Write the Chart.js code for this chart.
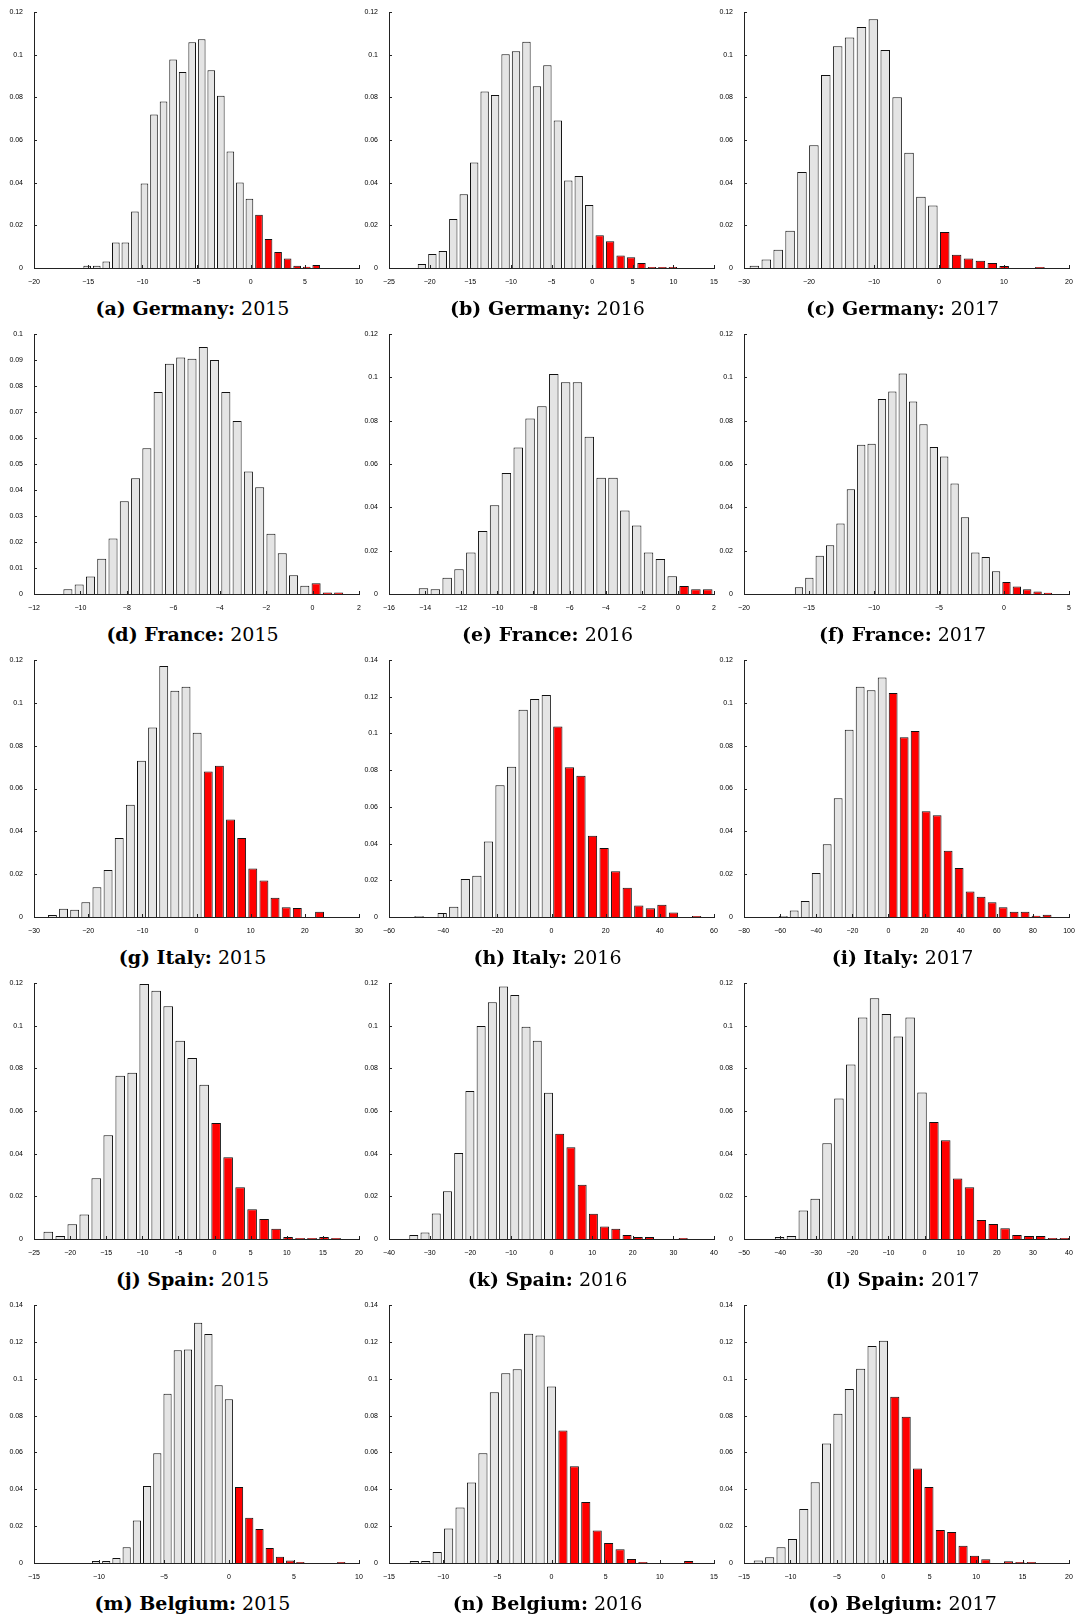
<!DOCTYPE html>
<html>
<head>
<meta charset="utf-8">
<script src="https://cdn.jsdelivr.net/npm/chart.js@4.4.1/dist/chart.umd.min.js"></script>
<style>
  body { margin: 0; background: #fff; overflow: hidden; }
  #page { position: relative; width: 1079px; height: 1619px; }
  .panel { position: absolute; }
  .cap {
    position: absolute;
    font-family: "DejaVu Serif", serif;
    font-size: 19px;
    white-space: nowrap;
    transform: translate(-50%, -50%);
    color: #000;
  }
</style>
</head>
<body>
<div id="page"></div>
<script>
// histogram heights (relative frequency), 25 bins per panel
const deu2015 = [0.001, 0.001, 0.003, 0.012, 0.012, 0.0265, 0.0396, 0.072, 0.078, 0.0977, 0.0919, 0.1058, 0.1072, 0.0927, 0.0807, 0.0546, 0.0401, 0.0325, 0.025, 0.0136, 0.0075, 0.0045, 0.0011, 0.0006, 0.0014];
const deu2016 = [0.0019, 0.0066, 0.008, 0.023, 0.0346, 0.0495, 0.0827, 0.0811, 0.1002, 0.1016, 0.1061, 0.0852, 0.095, 0.0691, 0.041, 0.0431, 0.0295, 0.0154, 0.0125, 0.0059, 0.005, 0.0023, 0.0005, 0.0005, 0.0005];
const deu2017 = [0.001, 0.004, 0.0085, 0.0175, 0.045, 0.0575, 0.0905, 0.104, 0.108, 0.113, 0.1166, 0.1022, 0.080, 0.054, 0.0334, 0.0293, 0.0169, 0.0062, 0.0044, 0.0034, 0.0023, 0.0009, 0, 0, 0.0005];
const fra2015 = [0.0018, 0.0037, 0.0067, 0.0136, 0.0213, 0.0357, 0.0445, 0.0561, 0.0777, 0.0886, 0.091, 0.0905, 0.095, 0.09, 0.0777, 0.0665, 0.0471, 0.0411, 0.0232, 0.0157, 0.0072, 0.0032, 0.0041, 0.0006, 0.0006];
const fra2016 = [0.0026, 0.0022, 0.0075, 0.0114, 0.0191, 0.0291, 0.041, 0.0559, 0.0676, 0.081, 0.0866, 0.1015, 0.0977, 0.0977, 0.0726, 0.0536, 0.0536, 0.0385, 0.0316, 0.0191, 0.0162, 0.0082, 0.0037, 0.0022, 0.0022];
const fra2017 = [0.0031, 0.0075, 0.0176, 0.0225, 0.0325, 0.0484, 0.0689, 0.0693, 0.09, 0.0935, 0.1018, 0.0889, 0.0784, 0.0679, 0.0635, 0.051, 0.0354, 0.0191, 0.0171, 0.0105, 0.0055, 0.0035, 0.0022, 0.0011, 0.0006];
const ita2015 = [0.0009, 0.0039, 0.0034, 0.0069, 0.0139, 0.022, 0.0369, 0.0524, 0.0729, 0.0885, 0.1172, 0.1057, 0.1075, 0.086, 0.0679, 0.0706, 0.0455, 0.0369, 0.0226, 0.017, 0.009, 0.0045, 0.0042, 0, 0.0025];
const ita2016 = [0.0005, 0, 0.0022, 0.0056, 0.0207, 0.0225, 0.0411, 0.0718, 0.0818, 0.1129, 0.1187, 0.1209, 0.1038, 0.0816, 0.0769, 0.0442, 0.0376, 0.0249, 0.016, 0.0062, 0.0047, 0.0067, 0.0025, 0, 0.0005];
const ita2017 = [0.0005, 0.003, 0.0075, 0.0205, 0.034, 0.0555, 0.0874, 0.1075, 0.1059, 0.1118, 0.1046, 0.0839, 0.0869, 0.0494, 0.0475, 0.0309, 0.0229, 0.0119, 0.0094, 0.0069, 0.0045, 0.0025, 0.0025, 0.0006, 0.0011];
const esp2015 = [0.0034, 0.0014, 0.0069, 0.0115, 0.0285, 0.0486, 0.0765, 0.0779, 0.1195, 0.1164, 0.1091, 0.0929, 0.0849, 0.0723, 0.0544, 0.0383, 0.0243, 0.014, 0.0094, 0.0048, 0.0009, 0.0005, 0.0005, 0.0009, 0.0005];
const esp2016 = [0.0019, 0.003, 0.012, 0.0224, 0.0403, 0.0694, 0.0999, 0.111, 0.1184, 0.1144, 0.0995, 0.0929, 0.0685, 0.0493, 0.043, 0.0254, 0.0118, 0.0059, 0.0048, 0.0019, 0.0009, 0.0009, 0, 0, 0.0005];
const esp2017 = [0.0009, 0.0014, 0.0134, 0.0189, 0.0449, 0.0659, 0.0818, 0.1038, 0.1128, 0.1055, 0.0949, 0.1038, 0.0687, 0.0549, 0.0463, 0.0284, 0.0243, 0.0089, 0.007, 0.005, 0.0019, 0.0014, 0.0014, 0.0005, 0.0005];
const bel2015 = [0.0011, 0.0011, 0.0027, 0.0085, 0.023, 0.0418, 0.0596, 0.0918, 0.1154, 0.1159, 0.1304, 0.1243, 0.0964, 0.0889, 0.0413, 0.0246, 0.0185, 0.0082, 0.0034, 0.0014, 0.0005, 0, 0, 0, 0.0005];
const bel2016 = [0.0011, 0.0011, 0.006, 0.0187, 0.0301, 0.0437, 0.0596, 0.0926, 0.1029, 0.1051, 0.1244, 0.1235, 0.0958, 0.0719, 0.0525, 0.0331, 0.0176, 0.0109, 0.0074, 0.0022, 0.0005, 0, 0, 0, 0.0011];
const bel2017 = [0.0014, 0.0031, 0.0085, 0.013, 0.0293, 0.0438, 0.0648, 0.081, 0.0944, 0.1054, 0.1177, 0.1206, 0.0902, 0.0793, 0.0513, 0.0413, 0.0179, 0.0168, 0.0094, 0.004, 0.002, 0, 0.0009, 0.0005, 0.0005];

const heights = [deu2015, deu2016, deu2017, fra2015, fra2016, fra2017, ita2015, ita2016, ita2017,
                 esp2015, esp2016, esp2017, bel2015, bel2016, bel2017];

// panel labels
const letters = ['a', 'b', 'c', 'd', 'e', 'f', 'g', 'h', 'i', 'j', 'k', 'l', 'm', 'n', 'o'];
const countries = ['Germany', 'France', 'Italy', 'Spain', 'Belgium'];
const years = ['2015', '2016', '2017'];

// first bin centre and bin width of each histogram
const binFirst = [-15.09, -20.95, -28.4, -10.54, -14.09, -15.77, -26.6, -48.9, -58.3, -23.02, -33.9, -40.15, -10.23, -12.66, -13.46];
const binWidth = [0.881, 1.287, 1.83, 0.486, 0.656, 0.798, 2.055, 4.27, 6.09, 1.66, 2.763, 3.287, 0.786, 1.055, 1.225];
// bins below zero (drawn grey), the rest are red
const greyBins = [18, 17, 16, 22, 22, 20, 14, 12, 10, 14, 13, 13, 14, 13, 12];

// axis ticks
const xMin  = [-20, -25, -30, -12, -16, -20, -30, -60, -80, -25, -40, -50, -15, -15, -15];
const xMax  = [10, 15, 20, 2, 2, 5, 30, 60, 100, 20, 40, 40, 10, 15, 20];
const xStep = [5, 5, 10, 2, 2, 5, 10, 20, 20, 5, 10, 10, 5, 5, 5];
const yMax  = [0.12, 0.12, 0.12, 0.1, 0.12, 0.12, 0.12, 0.14, 0.12, 0.12, 0.12, 0.12, 0.14, 0.14, 0.14];
const yStep = [0.02, 0.02, 0.02, 0.01, 0.02, 0.02, 0.02, 0.02, 0.02, 0.02, 0.02, 0.02, 0.02, 0.02, 0.02];

// page layout of the plot boxes
const colLeft = [34, 389, 744];
const rowTop = [12, 334, 660, 983, 1305];
const rowHeight = [256, 260, 257, 256, 258];
const plotWidth = 325;
const padTop = 10, padRight = 12, yAxisWidth = 34, xAxisHeight = 22;

const AXIS = '#222';
const GREY = '#e4e4e4';
const RED = '#ff0000';

const minus = v => (v < 0 ? '\u2212' + Math.abs(v) : String(v));

// MATLAB-style tick marks pointing into the plot
const inwardTicks = {
    id: 'inwardTicks',
    afterDraw(chart) {
        const { ctx, chartArea: a, scales: { x, y } } = chart;
        ctx.save();
        ctx.strokeStyle = AXIS;
        ctx.lineWidth = 1;
        ctx.beginPath();
        x.ticks.forEach(t => {
            const px = Math.round(x.getPixelForValue(t.value)) + 0.5;
            ctx.moveTo(px, a.bottom);
            ctx.lineTo(px, a.bottom - 3);
        });
        y.ticks.forEach(t => {
            const py = Math.round(y.getPixelForValue(t.value)) + 0.5;
            ctx.moveTo(a.left, py);
            ctx.lineTo(a.left + 3, py);
        });
        ctx.stroke();
        ctx.restore();
    }
};

const page = document.getElementById('page');

heights.forEach((h, i) => {
    const row = Math.floor(i / 3), col = i % 3;
    const w = yAxisWidth + plotWidth + padRight;
    const ht = padTop + rowHeight[row] + xAxisHeight;

    const box = document.createElement('div');
    box.className = 'panel';
    box.style.left = (colLeft[col] - yAxisWidth) + 'px';
    box.style.top = (rowTop[row] - padTop) + 'px';
    const canvas = document.createElement('canvas');
    canvas.width = w;
    canvas.height = ht;
    canvas.style.width = w + 'px';
    canvas.style.height = ht + 'px';
    box.appendChild(canvas);
    page.appendChild(box);

    const points = h.map((v, k) => ({ x: binFirst[i] + k * binWidth[i], y: v }));
    const colors = h.map((v, k) => (k < greyBins[i] ? GREY : RED));

    new Chart(canvas.getContext('2d'), {
        type: 'bar',
        data: {
            datasets: [{
                data: points,
                backgroundColor: colors,
                borderColor: '#111',
                borderWidth: 1,
                categoryPercentage: 1,
                barPercentage: 0.8
            }]
        },
        options: {
            responsive: false,
            animation: false,
            devicePixelRatio: 1,
            layout: { autoPadding: false, padding: { top: padTop, right: padRight, left: 0, bottom: 0 } },
            plugins: { legend: { display: false }, tooltip: { enabled: false } },
            scales: {
                x: {
                    type: 'linear',
                    offset: false,
                    min: xMin[i],
                    max: xMax[i],
                    grid: { display: false },
                    border: { display: true, color: AXIS, width: 1 },
                    ticks: {
                        stepSize: xStep[i],
                        autoSkip: false,
                        maxRotation: 0,
                        padding: 2,
                        color: '#000',
                        font: { family: 'Liberation Sans', size: 7 },
                        callback: v => minus(v)
                    },
                    afterFit: s => { s.height = xAxisHeight; }
                },
                y: {
                    min: 0,
                    max: yMax[i],
                    grid: { display: false },
                    border: { display: true, color: AXIS, width: 1 },
                    ticks: {
                        stepSize: yStep[i],
                        padding: 3,
                        color: '#000',
                        font: { family: 'Liberation Sans', size: 7 },
                        callback: v => String(+v.toFixed(3))
                    },
                    afterFit: s => { s.width = yAxisWidth; }
                }
            }
        },
        plugins: [inwardTicks]
    });

    const cap = document.createElement('div');
    cap.className = 'cap';
    cap.style.left = (colLeft[col] + plotWidth / 2 - 4) + 'px';
    cap.style.top = (rowTop[row] + rowHeight[row] + 40) + 'px';
    cap.innerHTML = '<b>(' + letters[i] + ') ' + countries[row] + ':</b> ' + years[col];
    page.appendChild(cap);
});
</script>
</body>
</html>
